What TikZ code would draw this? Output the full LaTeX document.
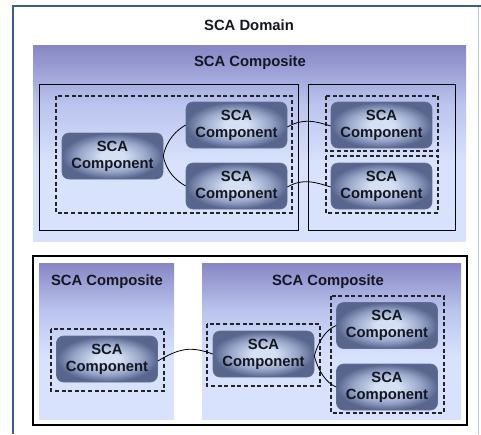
\documentclass[tikz,border=0pt]{standalone}
\usepackage{fontspec}
\setmainfont{Liberation Sans}

\definecolor{domainBlue}{RGB}{58,94,140}
\definecolor{compTop}{RGB}{134,134,196}
\definecolor{compMid}{RGB}{186,196,238}
\definecolor{compBot}{RGB}{216,226,252}
\definecolor{boxIn}{RGB}{212,224,244}
\definecolor{boxMid}{RGB}{150,164,200}
\definecolor{boxOut}{RGB}{88,102,142}
\definecolor{boxEdge}{RGB}{100,110,146}
\definecolor{txt}{RGB}{20,22,32}
\definecolor{dashInk}{RGB}{36,36,40}

% composite background: purple at the top fading to pale blue
\pgfdeclareverticalshading{composite}{100bp}{%
  color(0bp)=(compBot); color(25bp)=(compBot); color(45bp)=(compBot);
  color(60bp)=(compMid); color(75bp)=(compTop); color(100bp)=(compTop)}

% component fill: pale glow in the middle, darker towards the rim
\pgfdeclareradialshading{compglow}{\pgfpoint{0bp}{0bp}}{%
  color(0bp)=(boxIn); color(6bp)=(boxIn); color(17bp)=(boxMid);
  color(25bp)=(boxOut); color(50bp)=(boxOut)}

\begin{document}
\begin{tikzpicture}[x=1pt,y=-1pt,
  every node/.style={font=\bfseries\fontsize{14.8}{17}\selectfont,
    text=txt, align=center, inner sep=0pt},
  compbox/.style={rounded corners=7pt, minimum width=101pt,
    minimum height=46pt, draw=boxEdge, line width=0.6pt,
    shading=compglow},
  compbg/.style={shading=composite, draw=none},
  solidframe/.style={draw=black, line width=0.9pt},
  dashframe/.style={draw=dashInk, line width=1.1pt,
    dash pattern=on 4pt off 2.6pt},
  wire/.style={draw=black, line width=0.8pt}]

\useasboundingbox (0,0) rectangle (481,434);
\fill[white] (0,0) rectangle (481,434);

% domain frame
\draw[domainBlue!35, line width=0.8pt] (478.5,7) -- (478.5,434);
\draw[domainBlue, line width=2.4pt] (481,6.2) -- (12.8,6.2) -- (12.8,434);
\node (domain) at (249,25) {SCA Domain};

% ---------- upper composite ----------
\path[compbg] (33,45) rectangle (466,241);
\node (compA) at (250,63) {SCA Composite};
\draw[solidframe] (39,84) rectangle (298,230);
\draw[solidframe] (308,84) rectangle (455,230);
\draw[dashframe] (56,96) rectangle (292,213);
\draw[dashframe] (326,96) rectangle (438,151);
\draw[dashframe] (326,156) rectangle (438,213);

\node[compbox] (c1) at (112.5,156) {SCA\\Component};
\node[compbox] (c2) at (236.5,125) {SCA\\Component};
\node[compbox] (c3) at (236.5,186) {SCA\\Component};
\node[compbox] (c4) at (381.5,125) {SCA\\Component};
\node[compbox] (c5) at (381.5,186) {SCA\\Component};

\draw[wire] (c1.east) .. controls +(3,-16) and +(-9,5) .. (c2.west);
\draw[wire] (c1.east) .. controls +(3,16) and +(-9,-5) .. (c3.west);
\draw[wire] ([yshift=-2pt]c2.east) .. controls +(16,-9) and +(-16,-5) .. ([yshift=-1pt]c4.west);
\draw[wire] ([yshift=-1pt]c3.east) .. controls +(16,-9) and +(-16,-5) .. ([yshift=-1pt]c5.west);

% ---------- lower pair of composites ----------
\draw[black, line width=1.4pt] (33,256) rectangle (467,425);
\path[compbg] (39,263) rectangle (174,419);
\path[compbg] (202,263) rectangle (461,419);
\node (compB) at (107,282) {SCA Composite};
\node (compC) at (328,282) {SCA Composite};
\draw[dashframe] (51,329) rectangle (164,391);
\draw[dashframe] (207,324) rectangle (320,386);
\draw[dashframe] (331,296) rectangle (444,413);

\node[compbox] (c6) at (107,359) {SCA\\Component};
\node[compbox] (c7) at (263.5,354) {SCA\\Component};
\node[compbox] (c8) at (387,325.5) {SCA\\Component};
\node[compbox] (c9) at (387,387) {SCA\\Component};

\draw[wire] ([yshift=-2pt]c6.east) .. controls +(22,-13) and +(-22,-8) .. (c7.west);
\draw[wire] ([yshift=-2pt]c7.east) .. controls +(4,-15) and +(-10,4) .. (c8.west);
\draw[wire] ([yshift=-2pt]c7.east) .. controls +(4,15) and +(-10,-4) .. (c9.west);
\end{tikzpicture}
\end{document}
